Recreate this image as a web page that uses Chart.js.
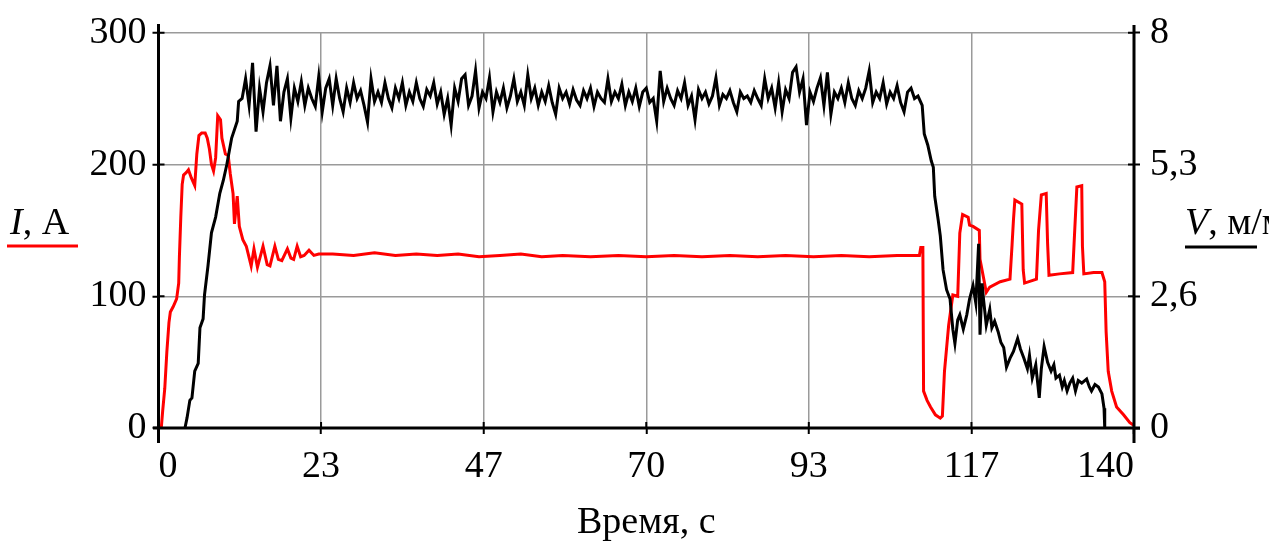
<!DOCTYPE html>
<html>
<head>
<meta charset="utf-8">
<script src="https://cdn.jsdelivr.net/npm/chart.js@4.4.1/dist/chart.umd.min.js"></script>
<style>
  html, body { margin: 0; padding: 0; background: #fff; }
  #wrap { width: 1269px; height: 546px; }
</style>
</head>
<body>
<div id="wrap"><canvas id="grafico" width="1269" height="546"></canvas></div>
<script>
// Corriente I, A (línea roja): tiempo en segundos y valores
const tiempoI = [
  0, 0.4, 0.6, 0.9, 1.2, 1.5, 1.7, 2.1, 2.6, 2.9,
  3.0, 3.2, 3.4, 3.6, 4.0, 4.3, 4.7, 5.2, 5.5, 5.8,
  6.2, 6.7, 7.0, 7.3, 7.6, 7.9, 8.2, 8.5, 8.9, 9.1,
  9.6, 10.0, 10.3, 10.7, 10.9, 11.3, 11.6, 12.1, 12.6, 13.3,
  13.7, 14.2, 15.0, 15.6, 16.0, 16.7, 17.2, 17.7, 18.5, 19.0,
  19.4, 19.9, 20.4, 20.9, 21.6, 22.3, 23, 25, 28, 31,
  34, 37, 40, 43, 46, 49, 52, 55, 58, 62,
  66, 70, 74, 78, 82, 86, 90, 94, 98, 102,
  106, 109.2, 109.4, 109.7, 109.8, 110.3, 110.8, 111.5, 112.2, 112.5,
  112.8, 113.4, 114.0, 114.7, 115.0, 115.4, 116.2, 116.4, 116.9, 117.8,
  117.9, 118.8, 119.3, 120.8, 122.2, 122.5, 122.7, 122.9, 123.9, 124.1,
  124.3, 126.0, 126.3, 126.7, 127.4, 127.6, 127.8, 129.3, 131.2, 131.4,
  131.8, 132.5, 132.6, 132.8, 134.2, 135.4, 135.8, 136.0, 136.3, 136.8,
  137.5, 138.5, 139.4, 140
];
const corrienteI = [
  0, 0, 13, 30, 58, 80, 88, 92, 98, 110,
  130, 160, 185, 192, 194, 196, 190, 184, 208, 222,
  224, 224, 220, 212, 200, 195, 205, 237, 234, 220,
  208, 207, 193, 178, 155, 176, 153, 143, 138, 123,
  136, 122, 138, 124, 123, 138, 128, 127, 136, 129,
  128, 138, 130, 131, 135, 131, 132, 132, 131, 133,
  131, 132, 131, 132, 130, 131, 132, 130, 131, 130,
  131, 130, 131, 130, 131, 130, 131, 130, 131, 130,
  131, 131, 137, 137, 28, 21, 16, 10, 7.5, 9,
  43, 78, 101, 100, 148, 162, 160, 154, 153, 150,
  128, 103, 107, 111, 113, 139, 158, 173, 170, 120,
  110, 113, 150, 177, 178, 140, 116, 117, 118, 140,
  183, 184, 138, 117, 118, 118, 111, 73, 43, 28,
  16, 10, 4, 2
];

// Velocidad V (línea negra): subida
const tiempoSubida = [3.8, 4.1, 4.5, 4.8, 5.2, 5.7, 5.95, 6.4, 6.6, 7.1, 7.6, 8.2, 8.8, 9.3, 9.8, 10.5, 11.3, 11.5];
const vSubida = [0, 0.21, 0.56, 0.61, 1.15, 1.31, 2.03, 2.21, 2.69, 3.28, 3.95, 4.27, 4.75, 5.01, 5.33, 5.87, 6.21, 6.61];

// Meseta: una muestra cada 0,5 s desde t = 12 s
const inicioMeseta = 12;
const pasoMeseta = 0.5;
const vMeseta = [
  6.67, 7.07, 6.53, 7.39, 6.00, 6.88, 6.40, 6.99, 7.33, 6.53,
  7.33, 6.21, 6.80, 7.07, 6.27, 6.88, 6.61, 7.01, 6.53, 6.88,
  6.67, 6.51, 7.12, 6.40, 6.88, 7.07, 6.53, 7.07, 6.67, 6.40,
  6.88, 6.59, 6.99, 6.67, 6.83, 6.53, 6.19, 7.07, 6.61, 6.80,
  6.59, 6.99, 6.67, 6.48, 6.88, 6.67, 6.99, 6.53, 6.80, 6.61,
  6.99, 6.67, 6.51, 6.85, 6.72, 6.99, 6.56, 6.80, 6.35, 6.67,
  6.13, 6.88, 6.61, 7.07, 7.15, 6.53, 6.72, 7.23, 6.48, 6.80,
  6.67, 7.09, 6.40, 6.80, 6.59, 6.88, 6.48, 6.72, 7.07, 6.61,
  6.80, 6.53, 7.15, 6.67, 6.88, 6.53, 6.80, 6.61, 6.93, 6.59,
  6.35, 6.88, 6.67, 6.80, 6.56, 6.85, 6.64, 6.53, 6.83, 6.67,
  6.88, 6.51, 6.80, 6.67, 6.59, 7.07, 6.61, 6.80, 6.67, 6.96,
  6.53, 6.80, 6.61, 6.88, 6.51, 6.80, 6.88, 6.59, 6.67, 6.21,
  7.23, 6.61, 6.88, 6.67, 6.53, 6.83, 6.67, 6.99, 6.53, 6.72,
  6.24, 6.85, 6.67, 6.80, 6.56, 6.72, 7.09, 6.53, 6.75, 6.67,
  6.83, 6.59, 6.40, 6.80, 6.67, 6.72, 6.59, 6.83, 6.67, 6.53,
  7.07, 6.67, 6.88, 6.48, 6.99, 6.40, 6.85, 6.67, 7.20, 7.31,
  6.80, 7.07, 6.13, 6.80, 6.61, 6.88, 7.09, 6.53, 7.20, 6.35,
  6.80, 6.67, 6.88, 6.59, 6.99, 6.67, 6.53, 6.83, 6.67, 6.88,
  7.23, 6.59, 6.80, 6.67, 6.99, 6.56, 6.80, 6.67, 6.93, 6.59,
  6.40, 6.80, 6.88, 6.67
];

// Caída final de la velocidad
const tiempoCaida = [
  109, 109.6, 109.9, 110.4, 110.9, 111.2, 111.4, 111.9, 112.2, 112.6,
  113.1, 113.6, 114, 114.3, 114.7, 115, 115.5, 116, 116.4, 116.9,
  117.3, 117.7, 117.9, 118.2, 118.4, 118.8, 119.3, 119.6, 120, 120.5,
  120.9, 121.3, 121.7, 122.2, 122.7, 123.3, 123.7, 124.2, 124.7, 125,
  125.4, 125.9, 126.4, 126.7, 127.1, 127.6, 128.1, 128.5, 128.8, 129.3,
  129.7, 130, 130.4, 130.8, 131.2, 131.6, 132, 132.5, 133.2, 133.6,
  133.9, 134.4, 134.9, 135.4, 135.7, 135.8
];
const vCaida = [
  6.72, 6.53, 5.95, 5.73, 5.41, 5.28, 4.69, 4.21, 3.89, 3.20,
  2.80, 2.61, 2.00, 1.71, 2.19, 2.29, 2.00, 2.29, 2.61, 2.88,
  2.53, 3.73, 1.89, 2.93, 2.61, 2.08, 2.40, 2.03, 2.16, 1.95,
  1.73, 1.63, 1.23, 1.41, 1.55, 1.81, 1.60, 1.41, 1.20, 1.47,
  1.01, 1.28, 0.61, 1.20, 1.65, 1.33, 1.15, 1.28, 1.01, 1.07,
  0.83, 0.96, 0.75, 0.91, 1.01, 0.75, 0.96, 0.91, 0.99, 0.83,
  0.75, 0.88, 0.83, 0.69, 0.40, 0
];

// Marcas de los ejes
const ticksX = [0, 23.33, 46.67, 70, 93.33, 116.67, 140];
const etiquetasX = ['0', '23', '47', '70', '93', '117', '140'];
const ticksIzq = [0, 100, 200, 300];
const ticksDer = [0, 2.667, 5.333, 8];
const etiquetasDer = ['0', '2,6', '5,3', '8'];

const fuente = "'Liberation Serif', 'Times New Roman', serif";

// Construye los puntos {x, y} a partir de los arreglos
const puntosI = tiempoI.map((t, i) => ({ x: t, y: corrienteI[i] }));
const puntosV = []
  .concat(tiempoSubida.map((t, i) => ({ x: t, y: vSubida[i] })))
  .concat(vMeseta.map((v, i) => ({ x: inicioMeseta + i * pasoMeseta, y: v })))
  .concat(tiempoCaida.map((t, i) => ({ x: t, y: vCaida[i] })));

// Plugin: dibuja los ejes negros, marcas internas y los títulos con subrayado
const ejesYTitulos = {
  id: 'ejesYTitulos',
  afterDraw(chart) {
    const c = chart.ctx;
    const a = chart.chartArea;
    const sx = chart.scales.x, sl = chart.scales.yIzq, sr = chart.scales.yDer;
    c.save();
    c.strokeStyle = '#000';
    c.lineWidth = 3;
    c.beginPath();
    c.moveTo(a.left, 24); c.lineTo(a.left, 443);
    c.moveTo(a.right, 25); c.lineTo(a.right, 443);
    c.moveTo(153, a.bottom); c.lineTo(1140, a.bottom);
    c.stroke();
    // marcas hacia dentro
    c.lineWidth = 2;
    c.beginPath();
    ticksIzq.forEach(v => { const y = sl.getPixelForValue(v); c.moveTo(a.left, y); c.lineTo(a.left + 6, y); });
    ticksDer.forEach(v => { const y = sr.getPixelForValue(v); c.moveTo(a.right - 6, y); c.lineTo(a.right, y); });
    ticksX.forEach(v => { const x = sx.getPixelForValue(v); c.moveTo(x, a.bottom - 6); c.lineTo(x, a.bottom); });
    c.stroke();

    // título izquierdo: I, A
    c.fillStyle = '#000';
    c.textBaseline = 'alphabetic';
    c.textAlign = 'left';
    c.font = 'italic 38px ' + fuente;
    c.fillText('I', 10, 234);
    let w = c.measureText('I').width;
    c.font = '38px ' + fuente;
    c.fillText(', A', 10 + w, 234);
    c.strokeStyle = '#ff0000';
    c.lineWidth = 3;
    c.beginPath(); c.moveTo(7, 246); c.lineTo(78, 246); c.stroke();

    // título derecho: V, м/мин (cortado por el borde)
    c.font = 'italic 38px ' + fuente;
    c.fillText('V', 1185, 234);
    w = c.measureText('V').width;
    c.font = '38px ' + fuente;
    c.fillText(', м/мин', 1185 + w, 234);
    c.strokeStyle = '#000';
    c.beginPath(); c.moveTo(1185, 247); c.lineTo(1257, 247); c.stroke();
    c.restore();
  }
};

const ctx = document.getElementById('grafico').getContext('2d');
const grafico = new Chart(ctx, {
  type: 'line',
  data: {
    datasets: [
      {
        label: 'V',
        data: puntosV,
        yAxisID: 'yDer',
        borderColor: '#000000',
        borderWidth: 3,
        pointRadius: 0,
        tension: 0
      },
      {
        label: 'I',
        data: puntosI,
        yAxisID: 'yIzq',
        borderColor: '#ff0000',
        borderWidth: 3,
        pointRadius: 0,
        tension: 0
      }
    ]
  },
  options: {
    responsive: false,
    animation: false,
    layout: { padding: { top: 27, left: 0, right: 0, bottom: 0 } },
    plugins: { legend: { display: false }, tooltip: { enabled: false } },
    scales: {
      x: {
        type: 'linear',
        min: 0,
        max: 140,
        afterBuildTicks: s => { s.ticks = ticksX.map(v => ({ value: v })); },
        afterFit: s => { s.height = 118; },
        ticks: {
          callback: (v, i) => etiquetasX[i],
          font: { family: fuente, size: 38 },
          color: '#000',
          padding: 10,
          align: 'inner',
          maxRotation: 0,
          autoSkip: false
        },
        grid: { color: '#9a9a9a', lineWidth: 1.5, tickLength: 6, tickColor: '#000', tickWidth: 2 },
        border: { display: false },
        title: {
          display: true,
          text: 'Время, с',
          font: { family: fuente, size: 38 },
          color: '#000',
          padding: { top: 0, bottom: 0 }
        }
      },
      yIzq: {
        position: 'left',
        min: 0,
        max: 300,
        afterBuildTicks: s => { s.ticks = ticksIzq.map(v => ({ value: v })); },
        afterFit: s => { s.width = 158.5; },
        ticks: { font: { family: fuente, size: 38 }, color: '#000', padding: 6 },
        grid: { color: '#9a9a9a', lineWidth: 1.5, tickLength: 6, tickColor: '#000', tickWidth: 2 },
        border: { display: false }
      },
      yDer: {
        position: 'right',
        min: 0,
        max: 8,
        afterBuildTicks: s => { s.ticks = ticksDer.map(v => ({ value: v })); },
        afterFit: s => { s.width = 135; },
        ticks: {
          callback: (v, i) => etiquetasDer[i],
          font: { family: fuente, size: 38 },
          color: '#000',
          padding: 10
        },
        grid: { drawOnChartArea: false, tickLength: 6, tickColor: '#000', tickWidth: 2 },
        border: { display: false }
      }
    }
  },
  plugins: [ejesYTitulos]
});
</script>
</body>
</html>
